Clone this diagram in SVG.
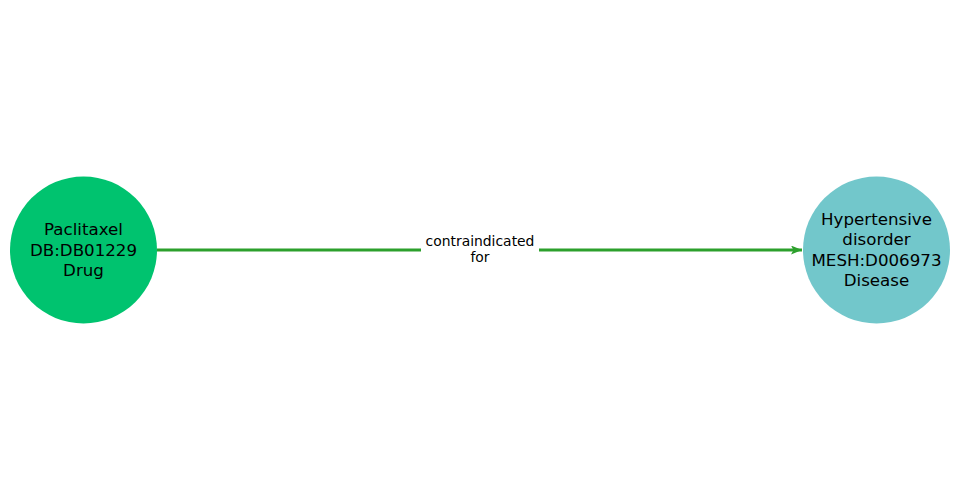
<svg xmlns="http://www.w3.org/2000/svg" width="960" height="500" viewBox="0 0 960 500">
<style>
.node-label{font-family:"DejaVu Sans",sans-serif;font-size:16.67px;fill:#000;text-anchor:middle}
.edge-label{font-family:"DejaVu Sans",sans-serif;font-size:13.9px;fill:#000;text-anchor:middle}
</style>
<defs>
<marker id="arrow" markerWidth="11" markerHeight="9" refX="11" refY="4.5" orient="auto" markerUnits="userSpaceOnUse">
<path d="M0,0 L11,4.5 L0,9 L2.5,4.5 Z" fill="#2ca02c"/>
</marker>
</defs>
<rect width="960" height="500" fill="#fff"/>
<g id="connectors">
<line x1="157" y1="250" x2="802" y2="250" stroke="#2ca02c" stroke-width="3.2" marker-end="url(#arrow)"/>
<rect x="421" y="231" width="118" height="36" fill="#fff"/>
<text class="edge-label" x="480" y="246">contraindicated</text>
<text class="edge-label" x="480" y="262">for</text>
</g>
<g id="node-paclitaxel">
<circle cx="83.5" cy="250" r="73.5" fill="#00c36f"/>
<text class="node-label" x="83.5" y="235">Paclitaxel</text>
<text class="node-label" x="83.5" y="255.5">DB:DB01229</text>
<text class="node-label" x="83.5" y="276">Drug</text>
</g>
<g id="node-hypertensive">
<circle cx="876.5" cy="250" r="73.5" fill="#72c7cb"/>
<text class="node-label" x="876.5" y="224.5">Hypertensive</text>
<text class="node-label" x="876.5" y="245">disorder</text>
<text class="node-label" x="876.5" y="265.5">MESH:D006973</text>
<text class="node-label" x="876.5" y="286">Disease</text>
</g>
</svg>
